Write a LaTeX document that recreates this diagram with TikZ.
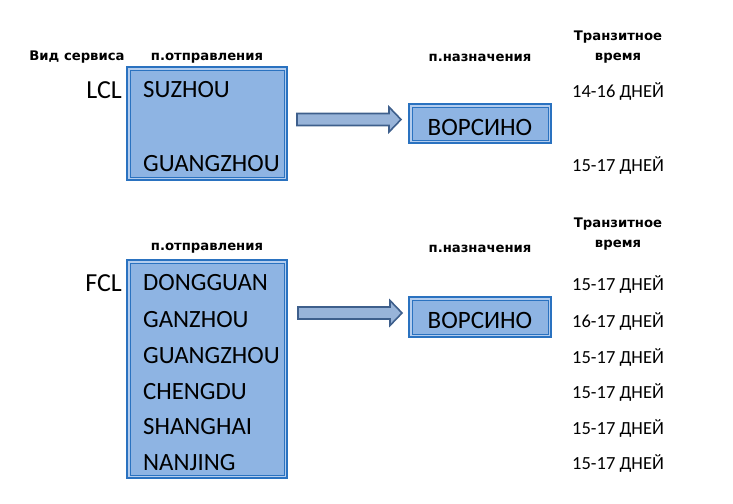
\documentclass[tikz,border=0pt]{standalone}
\usepackage{fontspec}
\setmainfont{Carlito}
\newfontfamily\hdrfont{DejaVu Sans}
\begin{document}
\definecolor{boxfill}{HTML}{8EB4E3}
\definecolor{boxgap}{HTML}{B4CDEE}
\definecolor{boxline}{HTML}{2A72C0}
\definecolor{arrfill}{HTML}{98B4D9}
\definecolor{arrline}{HTML}{3E5F8C}
\begin{tikzpicture}[x=1pt,y=-1pt,
  hdr/.style={font=\hdrfont\bfseries\fontsize{13.2}{14}\selectfont, inner sep=0pt},
  svc/.style={font=\fontsize{26}{28}\selectfont, inner sep=0pt, anchor=east},
  city/.style={font=\fontsize{24.8}{26}\selectfont, inner sep=0pt, anchor=west},
  days/.style={font=\fontsize{18.5}{20}\selectfont, inner sep=0pt, anchor=west},
  dest/.style={font=\fontsize{25}{27}\selectfont, inner sep=0pt},
  bigarrow/.style={fill=arrfill, draw=arrline, line width=1.6pt, line join=miter}
]
\useasboundingbox (0,0) rectangle (733,503);
\newcommand{\dblbox}[4]{%
  \draw[boxline, fill=boxgap, line width=1.3pt] (#1,#2) rectangle (#3,#4);
  \draw[boxline, fill=boxfill, line width=0.8pt] (#1+3,#2+3) rectangle (#3-3,#4-3);}
\newcommand{\fatarrow}[3]{% x1, x2, yc
  \draw[bigarrow] (#1,#3-6) -- (#2-12,#3-6) -- (#2-12,#3-12.5) -- (#2,#3) -- (#2-12,#3+12.5) -- (#2-12,#3+6) -- (#1,#3+6) -- cycle;}

% ---------- LCL ----------
\node[hdr] (h1) at (77,57) {Вид сервиса};
\node[hdr] (h2) at (207,58) {п.отправления};
\node[hdr] (h3) at (480,58) {п.назначения};
\node[hdr] (h4) at (618,37) {Транзитное};
\node[hdr] (h5) at (618,58) {время};

\dblbox{127}{67}{287}{180}
\node[svc] (lcl) at (122,90) {LCL};
\node[city] (c1) at (143,90) {SUZHOU};
\node[city] (c2) at (143,164) {GUANGZHOU};

\fatarrow{297}{401}{119.5}
\dblbox{409}{104}{551}{143}
\node[dest] (d1) at (480,127) {ВОРСИНО};

\node[days] (t1) at (572,91) {14-16 ДНЕЙ};
\node[days] (t2) at (572,165) {15-17 ДНЕЙ};

% ---------- FCL ----------
\node[hdr] (g2) at (207,248) {п.отправления};
\node[hdr] (g3) at (480,249) {п.назначения};
\node[hdr] (g4) at (618,224) {Транзитное};
\node[hdr] (g5) at (618,245) {время};

\dblbox{127}{260}{287}{478}
\node[svc] (fcl) at (122,283) {FCL};
\node[city] (f1) at (143,283) {DONGGUAN};
\node[city] (f2) at (143,320) {GANZHOU};
\node[city] (f3) at (143,356) {GUANGZHOU};
\node[city] (f4) at (143,392) {CHENGDU};
\node[city] (f5) at (143,427) {SHANGHAI};
\node[city] (f6) at (143,463) {NANJING};

\fatarrow{298}{402}{313}
\dblbox{409}{297}{551}{337}
\node[dest] (d2) at (480,320) {ВОРСИНО};

\node[days] (s1) at (572,284) {15-17 ДНЕЙ};
\node[days] (s2) at (572,321) {16-17 ДНЕЙ};
\node[days] (s3) at (572,357) {15-17 ДНЕЙ};
\node[days] (s4) at (572,392) {15-17 ДНЕЙ};
\node[days] (s5) at (572,428) {15-17 ДНЕЙ};
\node[days] (s6) at (572,463) {15-17 ДНЕЙ};
\end{tikzpicture}
\end{document}
